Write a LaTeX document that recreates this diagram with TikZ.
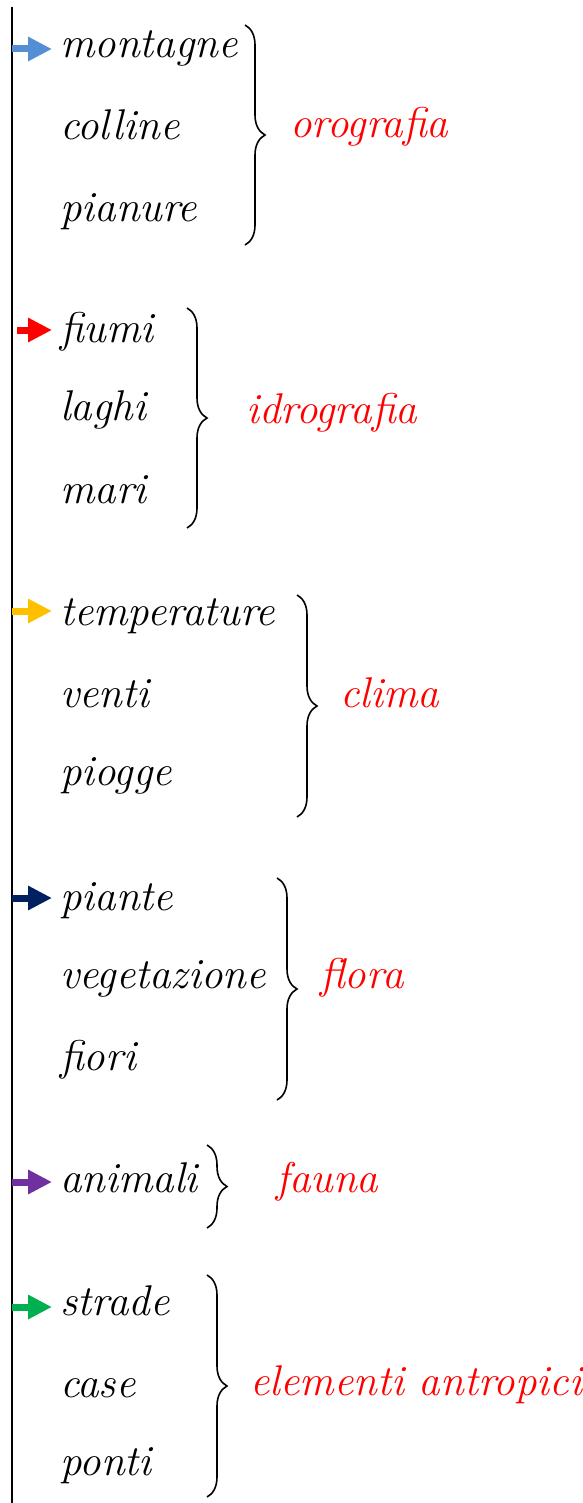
\documentclass[tikz,border=0pt]{standalone}
\usetikzlibrary{arrows.meta,decorations.pathreplacing}
\definecolor{arrBlue}{HTML}{558ED5}
\definecolor{arrRed}{HTML}{FF0000}
\definecolor{arrYellow}{HTML}{FFC000}
\definecolor{arrNavy}{HTML}{002060}
\definecolor{arrPurple}{HTML}{7030A0}
\definecolor{arrGreen}{HTML}{00B050}
\tikzset{
  item/.style={anchor=base west, inner sep=0pt, font=\fontsize{43}{43}\selectfont\itshape},
  lab/.style={item, text=red},
  arr/.style={line width=7pt, -{Triangle[length=24pt, width=23pt]}, shorten >=8pt},
  bracebox/.style={decorate, decoration={brace, amplitude=20pt}, line width=1.6pt},
}
\begin{document}
\begin{tikzpicture}[x=1pt, y=-1pt]
\useasboundingbox (0,0) rectangle (582,1503);
\draw[line width=2pt] (12,7) coordinate (top) -- (12,1503) coordinate (bot);
\coordinate (vl) at (12,0);
% group 1
\node[item] (montagne) at (60,58) {montagne};
\node[item] (colline) at (60,140) {colline};
\node[item] (pianure) at (60,222) {pianure};
\draw[bracebox] (245,25) -- (245,245);
\node[lab] (orografia) at (290,138) {orografia};
\draw[arr, arrBlue] ([yshift=9pt]montagne.base west -| vl) -- ([yshift=9pt]montagne.base west);
% group 2
\node[item] (fiumi) at (60,342) {fiumi};
\node[item] (laghi) at (60,420) {laghi};
\node[item] (mari) at (60,503) {mari};
\draw[bracebox] (187,308) -- (187,528);
\node[lab] (idrografia) at (246,423) {idrografia};
\draw[arr, arrRed] ([xshift=5pt,yshift=12pt]fiumi.base west -| vl) -- ([yshift=12pt]fiumi.base west);
% group 3
\node[item] (temperature) at (60,625) {temperature};
\node[item] (venti) at (60,707) {venti};
\node[item] (piogge) at (60,785) {piogge};
\draw[bracebox] (297,595) -- (297,817);
\node[lab] (clima) at (340,707) {clima};
\draw[arr, arrYellow] ([yshift=14pt]temperature.base west -| vl) -- ([yshift=14pt]temperature.base west);
% group 4
\node[item] (piante) at (60,910) {piante};
\node[item] (vegetazione) at (60,988) {vegetazione};
\node[item] (fiori) at (60,1070) {fiori};
\draw[bracebox] (277,878) -- (277,1100);
\node[lab] (flora) at (320,988) {flora};
\draw[arr, arrNavy] ([yshift=12pt]piante.base west -| vl) -- ([yshift=12pt]piante.base west);
% group 5
\node[item] (animali) at (60,1192) {animali};
\draw[bracebox] (207,1145) -- (207,1228);
\node[lab] (fauna) at (276,1192) {fauna};
\draw[arr, arrPurple] ([yshift=10pt]animali.base west -| vl) -- ([yshift=10pt]animali.base west);
% group 6
\node[item] (strade) at (60,1315) {strade};
\node[item] (case) at (60,1397) {case};
\node[item] (ponti) at (60,1475) {ponti};
\draw[bracebox] (207,1275) -- (207,1497);
\node[lab] (antropici) at (250,1395) {elementi antropici};
\draw[arr, arrGreen] ([yshift=8pt]strade.base west -| vl) -- ([yshift=8pt]strade.base west);
\end{tikzpicture}
\end{document}
